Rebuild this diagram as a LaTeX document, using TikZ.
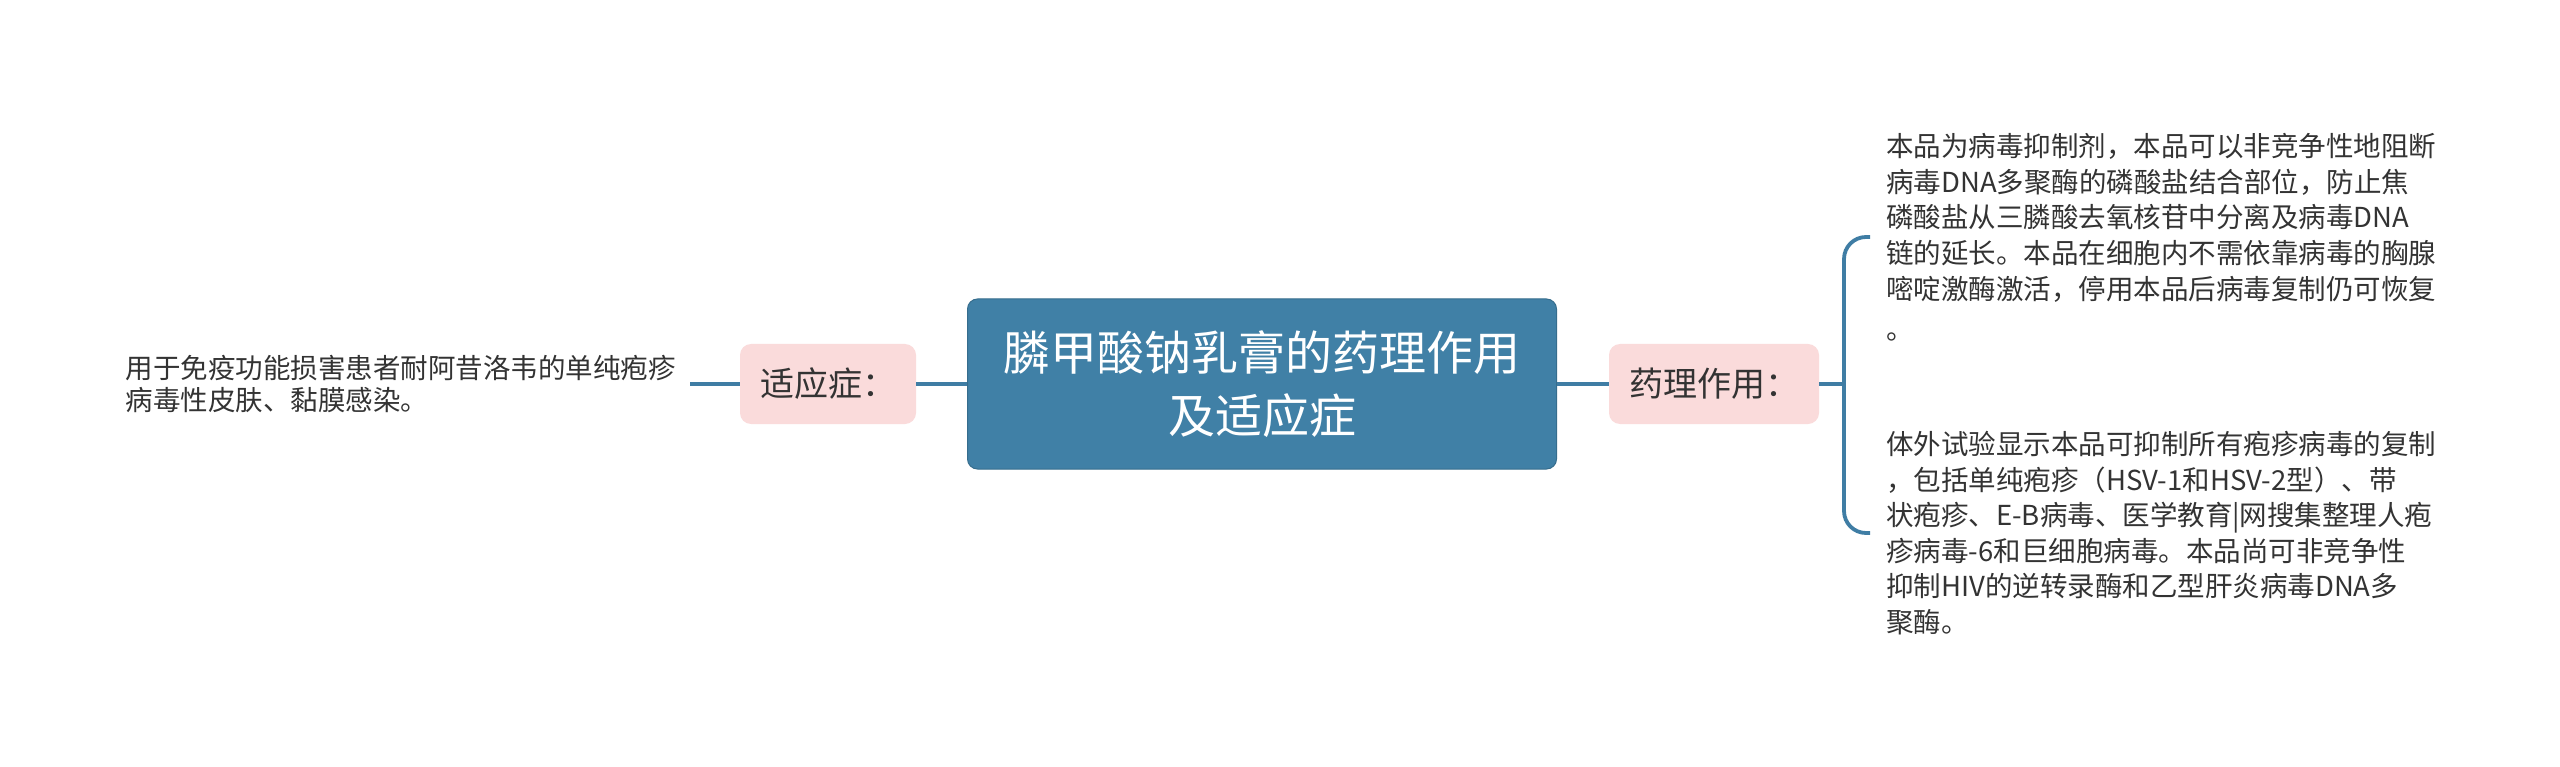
\documentclass[tikz,border=0pt]{standalone}
\usepackage{fontspec}
\setmainfont{Noto Sans CJK SC}
\begin{document}
\begin{tikzpicture}[x=1pt,y=-1pt,
  conn/.style={draw=linkblue, line width=3.8pt},
  rootbox/.style={fill=mainblue, draw=mainblue!85!black, line width=1pt, rounded corners=10pt,
    text=white, align=center, minimum width=589pt, minimum height=170pt,
    font=\fontsize{47}{63}\selectfont},
  subbox/.style={fill=pinkfill, rounded corners=11pt, text=textdark, minimum height=80pt,
    inner xsep=16pt, font=\fontsize{34}{40}\selectfont},
  leaf/.style={text=textdark, align=left, inner xsep=14pt, inner ysep=0pt}
]
\definecolor{mainblue}{HTML}{4080A6}
\definecolor{linkblue}{HTML}{3F7DA4}
\definecolor{pinkfill}{HTML}{FADBDB}
\definecolor{textdark}{HTML}{333333}
\useasboundingbox[fill=white] (0,0) rectangle (2560,767);

\node[rootbox] (root) at (1262,384) {膦甲酸钠乳膏的药理作用\\及适应症};
\node[subbox, minimum width=176pt] (ind) at (828,384) {适应症：};
\node[subbox, minimum width=210pt] (pharm) at (1714,384) {药理作用：};

\node[leaf, anchor=east, font=\fontsize{27.5}{32}\selectfont] (ltext) at (690,384)
  {用于免疫功能损害患者耐阿昔洛韦的单纯疱疹\\病毒性皮肤、黏膜感染。};

\node[leaf, anchor=west, inner xsep=16pt, font=\fontsize{27.5}{35.8}\selectfont] (b1) at (1870,237)
  {本品为病毒抑制剂，本品可以非竞争性地阻断\\病毒DNA多聚酶的磷酸盐结合部位，防止焦\\磷酸盐从三膦酸去氧核苷中分离及病毒DNA\\链的延长。本品在细胞内不需依靠病毒的胸腺\\嘧啶激酶激活，停用本品后病毒复制仍可恢复\\[4pt]。};

\node[leaf, anchor=west, inner xsep=16pt, font=\fontsize{27.5}{35.6}\selectfont] (b2) at (1870,533)
  {体外试验显示本品可抑制所有疱疹病毒的复制\\，包括单纯疱疹（HSV-1和HSV-2型）、带\\状疱疹、E-B病毒、医学教育|网搜集整理人疱\\疹病毒-6和巨细胞病毒。本品尚可非竞争性\\抑制HIV的逆转录酶和乙型肝炎病毒DNA多\\聚酶。};

\coordinate (brk) at (1844,384);

\draw[conn] (ltext.east) -- (ind.west);
\draw[conn] (ind.east) -- (root.west);
\draw[conn] (root.east) -- (pharm.west);
\draw[conn] (pharm.east) -- (brk);
\draw[conn, rounded corners=22pt] (b1.west) -| (brk) |- (b2.west);
\end{tikzpicture}
\end{document}
